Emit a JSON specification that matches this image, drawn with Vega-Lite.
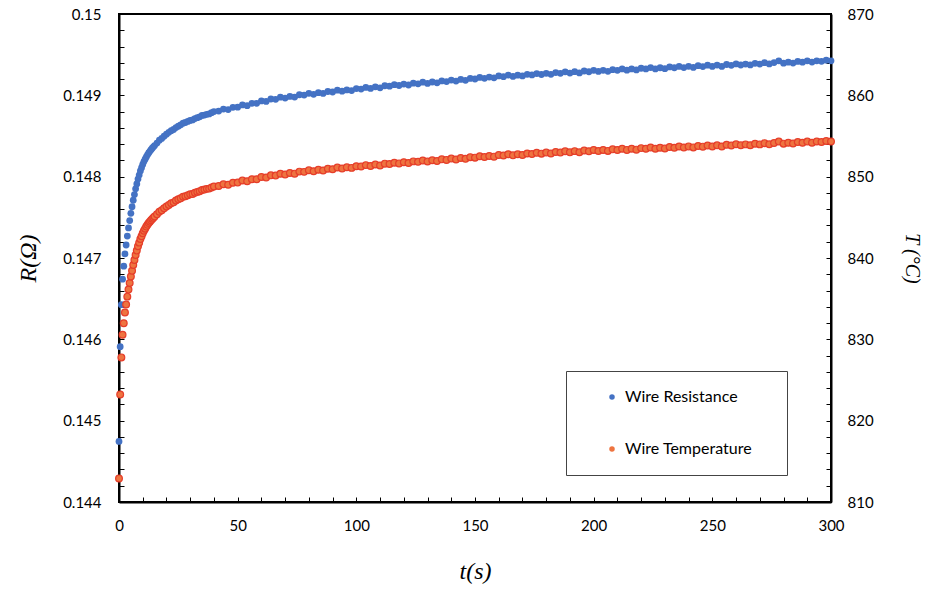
{
  "$schema": "https://vega.github.io/schema/vega-lite/v6.json",
  "width": 712,
  "height": 488,
  "autosize": {"type": "none"},
  "padding": {"left": 119, "top": 14, "right": 96, "bottom": 88},
  "background": "white",
  "config": {
    "view": {"stroke": "black", "strokeWidth": 2},
    "axis": {
      "domainColor": "black", "domainWidth": 2,
      "tickColor": "black", "tickWidth": 1, "tickSize": -5,
      "grid": false,
      "labelFont": "Lato", "labelFontSize": 15, "labelColor": "black",
      "labelFlush": false, "labelOverlap": false,
      "titleColor": "black", "titleFontWeight": "normal"
    },
    "legend": {
      "orient": "none", "legendX": 447, "legendY": 357,
      "strokeColor": "#444", "strokeWidth": 1, "fillColor": "white",
      "padding": 18, "rowPadding": 36,
      "labelFont": "Lato", "labelFontSize": 16, "labelColor": "black",
      "symbolType": "circle", "symbolSize": 30, "symbolOffset": 20, "labelOffset": 5,
      "symbolStrokeWidth": 0,
      "titleOrient": "right", "titlePadding": 17, "titleFontSize": 11, "titleFont": "Lato"
    }
  },
  "data": {"values": [
    {"t":0,"R":0.144745,"T":812.90},
    {"t":0.5,"R":0.14591,"T":823.21},
    {"t":1,"R":0.146426,"T":827.78},
    {"t":1.5,"R":0.14674,"T":830.56},
    {"t":2,"R":0.1469,"T":831.98},
    {"t":2.5,"R":0.14705,"T":833.30},
    {"t":3,"R":0.14716,"T":834.28},
    {"t":3.5,"R":0.14727,"T":835.25},
    {"t":4,"R":0.14737,"T":836.13},
    {"t":4.5,"R":0.14746,"T":836.93},
    {"t":5,"R":0.14755,"T":837.73},
    {"t":5.5,"R":0.14763,"T":838.44},
    {"t":6,"R":0.14771,"T":839.14},
    {"t":6.5,"R":0.14778,"T":839.76},
    {"t":7,"R":0.14785,"T":840.38},
    {"t":7.5,"R":0.14791,"T":840.91},
    {"t":8,"R":0.14797,"T":841.44},
    {"t":8.5,"R":0.14802,"T":841.89},
    {"t":9,"R":0.14807,"T":842.33},
    {"t":9.5,"R":0.14811,"T":842.68},
    {"t":10,"R":0.14815,"T":843.04},
    {"t":10.5,"R":0.148185,"T":843.35},
    {"t":11,"R":0.148215,"T":843.61},
    {"t":11.5,"R":0.148243,"T":843.86},
    {"t":12,"R":0.148268,"T":844.08},
    {"t":12.5,"R":0.148291,"T":844.29},
    {"t":13,"R":0.148312,"T":844.47},
    {"t":13.5,"R":0.148332,"T":844.65},
    {"t":14,"R":0.14835,"T":844.81},
    {"t":14.5,"R":0.148367,"T":844.96},
    {"t":15,"R":0.148383,"T":845.10},
    {"t":16,"R":0.148413,"T":845.37},
    {"t":17,"R":0.148448,"T":845.68},
    {"t":18,"R":0.14847,"T":845.87},
    {"t":19,"R":0.148497,"T":846.11},
    {"t":20,"R":0.148522,"T":846.33},
    {"t":21,"R":0.148545,"T":846.53},
    {"t":22,"R":0.148566,"T":846.72},
    {"t":23,"R":0.14858,"T":846.84},
    {"t":24,"R":0.148604,"T":847.06},
    {"t":25,"R":0.148621,"T":847.21},
    {"t":26,"R":0.148637,"T":847.35},
    {"t":27,"R":0.148658,"T":847.53},
    {"t":28,"R":0.148666,"T":847.60},
    {"t":29,"R":0.148679,"T":847.72},
    {"t":30,"R":0.148691,"T":847.83},
    {"t":31,"R":0.148697,"T":847.88},
    {"t":32,"R":0.148714,"T":848.03},
    {"t":33,"R":0.148725,"T":848.13},
    {"t":34,"R":0.148736,"T":848.22},
    {"t":35,"R":0.148753,"T":848.37},
    {"t":36,"R":0.148757,"T":848.41},
    {"t":37,"R":0.148767,"T":848.50},
    {"t":38,"R":0.148771,"T":848.53},
    {"t":39,"R":0.148787,"T":848.67},
    {"t":40,"R":0.1488,"T":848.79},
    {"t":42,"R":0.148807,"T":848.85},
    {"t":44,"R":0.148831,"T":849.06},
    {"t":46,"R":0.148825,"T":849.01},
    {"t":48,"R":0.148852,"T":849.25},
    {"t":50,"R":0.148854,"T":849.27},
    {"t":52,"R":0.148882,"T":849.52},
    {"t":54,"R":0.148873,"T":849.44},
    {"t":56,"R":0.148902,"T":849.69},
    {"t":58,"R":0.148902,"T":849.69},
    {"t":60,"R":0.148931,"T":849.95},
    {"t":62,"R":0.148925,"T":849.90},
    {"t":64,"R":0.148955,"T":850.16},
    {"t":66,"R":0.148951,"T":850.13},
    {"t":68,"R":0.148977,"T":850.36},
    {"t":70,"R":0.148967,"T":850.27},
    {"t":72,"R":0.148987,"T":850.45},
    {"t":74,"R":0.148979,"T":850.37},
    {"t":76,"R":0.149007,"T":850.62},
    {"t":78,"R":0.149003,"T":850.59},
    {"t":80,"R":0.149025,"T":850.78},
    {"t":82,"R":0.149013,"T":850.67},
    {"t":84,"R":0.149033,"T":850.85},
    {"t":86,"R":0.149023,"T":850.76},
    {"t":88,"R":0.149047,"T":850.98},
    {"t":90,"R":0.149041,"T":850.92},
    {"t":92,"R":0.149063,"T":851.12},
    {"t":94,"R":0.149051,"T":851.01},
    {"t":96,"R":0.149067,"T":851.15},
    {"t":98,"R":0.149059,"T":851.08},
    {"t":100,"R":0.149083,"T":851.29},
    {"t":102,"R":0.149077,"T":851.24},
    {"t":104,"R":0.149097,"T":851.42},
    {"t":106,"R":0.149085,"T":851.31},
    {"t":108,"R":0.149105,"T":851.49},
    {"t":110,"R":0.149093,"T":851.38},
    {"t":112,"R":0.149118,"T":851.60},
    {"t":114,"R":0.149112,"T":851.55},
    {"t":116,"R":0.149131,"T":851.72},
    {"t":118,"R":0.149121,"T":851.63},
    {"t":120,"R":0.149138,"T":851.78},
    {"t":122,"R":0.149127,"T":851.68},
    {"t":124,"R":0.149149,"T":851.88},
    {"t":126,"R":0.149142,"T":851.82},
    {"t":128,"R":0.149162,"T":851.99},
    {"t":130,"R":0.149147,"T":851.86},
    {"t":132,"R":0.149164,"T":852.01},
    {"t":134,"R":0.149154,"T":851.92},
    {"t":136,"R":0.149177,"T":852.13},
    {"t":138,"R":0.149169,"T":852.06},
    {"t":140,"R":0.149188,"T":852.22},
    {"t":142,"R":0.149175,"T":852.11},
    {"t":144,"R":0.149195,"T":852.29},
    {"t":146,"R":0.149184,"T":852.19},
    {"t":148,"R":0.149208,"T":852.40},
    {"t":150,"R":0.149201,"T":852.34},
    {"t":152,"R":0.14922,"T":852.51},
    {"t":154,"R":0.149209,"T":852.41},
    {"t":156,"R":0.149224,"T":852.54},
    {"t":158,"R":0.149215,"T":852.46},
    {"t":160,"R":0.149238,"T":852.67},
    {"t":162,"R":0.14923,"T":852.60},
    {"t":164,"R":0.149249,"T":852.76},
    {"t":166,"R":0.149233,"T":852.62},
    {"t":168,"R":0.149248,"T":852.75},
    {"t":170,"R":0.149238,"T":852.67},
    {"t":172,"R":0.149259,"T":852.85},
    {"t":174,"R":0.149251,"T":852.78},
    {"t":176,"R":0.149268,"T":852.93},
    {"t":178,"R":0.149256,"T":852.83},
    {"t":180,"R":0.149271,"T":852.96},
    {"t":182,"R":0.149258,"T":852.84},
    {"t":184,"R":0.14928,"T":853.04},
    {"t":186,"R":0.149271,"T":852.96},
    {"t":188,"R":0.149289,"T":853.12},
    {"t":190,"R":0.149274,"T":852.99},
    {"t":192,"R":0.149291,"T":853.14},
    {"t":194,"R":0.149276,"T":853.00},
    {"t":196,"R":0.149299,"T":853.21},
    {"t":198,"R":0.14929,"T":853.13},
    {"t":200,"R":0.149307,"T":853.28},
    {"t":202,"R":0.149294,"T":853.16},
    {"t":204,"R":0.149307,"T":853.28},
    {"t":206,"R":0.149295,"T":853.17},
    {"t":208,"R":0.149316,"T":853.36},
    {"t":210,"R":0.149307,"T":853.28},
    {"t":212,"R":0.149324,"T":853.43},
    {"t":214,"R":0.149309,"T":853.29},
    {"t":216,"R":0.149325,"T":853.44},
    {"t":218,"R":0.149312,"T":853.32},
    {"t":220,"R":0.149333,"T":853.51},
    {"t":222,"R":0.149324,"T":853.43},
    {"t":224,"R":0.149342,"T":853.59},
    {"t":226,"R":0.149325,"T":853.44},
    {"t":228,"R":0.149339,"T":853.56},
    {"t":230,"R":0.149328,"T":853.46},
    {"t":232,"R":0.149349,"T":853.65},
    {"t":234,"R":0.149339,"T":853.56},
    {"t":236,"R":0.149356,"T":853.71},
    {"t":238,"R":0.149342,"T":853.59},
    {"t":240,"R":0.149357,"T":853.72},
    {"t":242,"R":0.149343,"T":853.60},
    {"t":244,"R":0.149364,"T":853.78},
    {"t":246,"R":0.149354,"T":853.69},
    {"t":248,"R":0.149371,"T":853.84},
    {"t":250,"R":0.149355,"T":853.70},
    {"t":252,"R":0.149372,"T":853.85},
    {"t":254,"R":0.149356,"T":853.71},
    {"t":256,"R":0.149379,"T":853.91},
    {"t":258,"R":0.149369,"T":853.83},
    {"t":260,"R":0.149386,"T":853.98},
    {"t":262,"R":0.149373,"T":853.86},
    {"t":264,"R":0.149385,"T":853.97},
    {"t":266,"R":0.149374,"T":853.87},
    {"t":268,"R":0.149394,"T":854.05},
    {"t":270,"R":0.149385,"T":853.97},
    {"t":272,"R":0.149402,"T":854.12},
    {"t":274,"R":0.149386,"T":853.98},
    {"t":276,"R":0.149403,"T":854.13},
    {"t":278,"R":0.149424,"T":854.31},
    {"t":280,"R":0.149396,"T":854.06},
    {"t":282,"R":0.149408,"T":854.17},
    {"t":284,"R":0.149397,"T":854.07},
    {"t":286,"R":0.149417,"T":854.25},
    {"t":288,"R":0.149408,"T":854.17},
    {"t":290,"R":0.149424,"T":854.31},
    {"t":292,"R":0.149409,"T":854.18},
    {"t":294,"R":0.149425,"T":854.32},
    {"t":296,"R":0.149418,"T":854.26},
    {"t":298,"R":0.149432,"T":854.38},
    {"t":300,"R":0.149425,"T":854.32}
  ]},
  "encoding": {
    "x": {
      "field": "t", "type": "quantitative",
      "scale": {"domain": [0, 300], "nice": false},
      "axis": {
        "values": [0,10,20,30,40,50,60,70,80,90,100,110,120,130,140,150,160,170,180,190,200,210,220,230,240,250,260,270,280,290,300],
        "labelExpr": "datum.value % 50 == 0 ? datum.label : ''",
        "labelPadding": 21,
        "title": "t(s)",
        "titleFont": "Liberation Serif", "titleFontStyle": "italic", "titleFontSize": 24,
        "titlePadding": 26
      }
    }
  },
  "layer": [
    {
      "mark": {"type": "point", "filled": true, "size": 46, "opacity": 1},
      "encoding": {
        "y": {
          "field": "R", "type": "quantitative",
          "scale": {"domain": [0.144, 0.15], "nice": false, "zero": false},
          "axis": {
            "orient": "left",
            "values": [0.144,0.1442,0.1444,0.1446,0.1448,0.145,0.1452,0.1454,0.1456,0.1458,0.146,0.1462,0.1464,0.1466,0.1468,0.147,0.1472,0.1474,0.1476,0.1478,0.148,0.1482,0.1484,0.1486,0.1488,0.149,0.1492,0.1494,0.1496,0.1498,0.15],
            "format": "~g",
            "labelExpr": "abs(datum.value * 1000 - round(datum.value * 1000)) < 0.01 ? datum.label : ''",
            "labelPadding": 23,
            "title": "R(Ω)",
            "titleFont": "Liberation Serif", "titleFontStyle": "italic", "titleFontSize": 24,
            "titlePadding": 22
          }
        },
        "color": {
          "datum": "Wire Resistance",
          "scale": {"domain": ["Wire Resistance", "Wire Temperature"], "range": ["#4472C4", "#EE7440"]},
          "legend": {"title": "\u00a0"}
        }
      }
    },
    {
      "mark": {"type": "point", "filled": true, "size": 46, "opacity": 1, "stroke": "#E63E2A", "strokeWidth": 1.2},
      "encoding": {
        "y": {
          "field": "T", "type": "quantitative",
          "scale": {"domain": [810, 870], "nice": false, "zero": false},
          "axis": {
            "orient": "right",
            "values": [810,812,814,816,818,820,822,824,826,828,830,832,834,836,838,840,842,844,846,848,850,852,854,856,858,860,862,864,866,868,870],
            "labelExpr": "datum.value % 10 == 0 ? datum.label : ''",
            "labelPadding": 21,
            "title": "T (°C)",
            "titleFont": "Liberation Serif", "titleFontStyle": "italic", "titleFontSize": 20,
            "titlePadding": 28
          }
        },
        "color": {"datum": "Wire Temperature"}
      }
    }
  ],
  "resolve": {"scale": {"y": "independent"}}
}
